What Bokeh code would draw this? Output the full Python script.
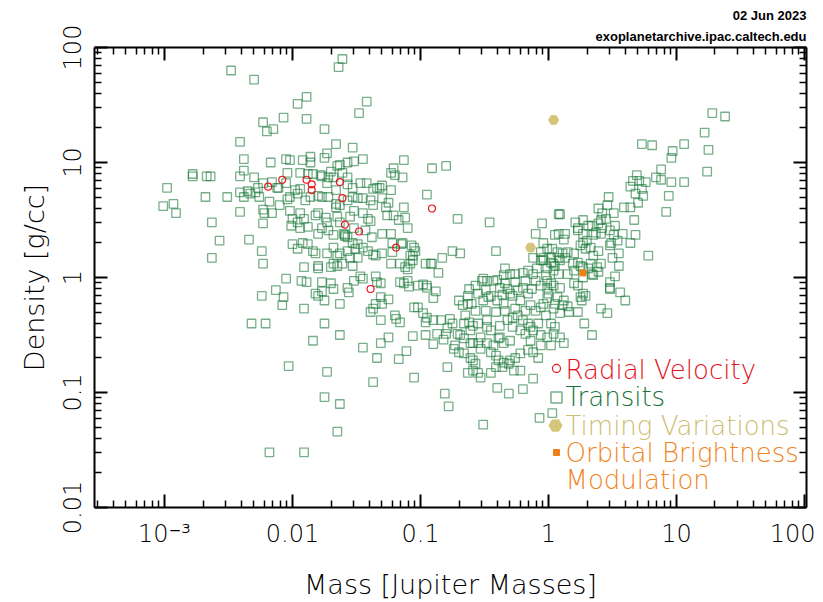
import numpy as np
from bokeh.plotting import figure
from bokeh.models import Range1d, LogAxis, FixedTicker, Label, Title
from bokeh.embed import file_html
from bokeh.resources import INLINE

# ---------------- data (log10 of mass [M_J] and density [g/cc]) ----------------
transit_log_mass = [
    -2.48, -2.30, -1.64, -1.61, -1.96, -1.89, -1.42, -1.48, -2.23, -2.07,
    -1.89, -2.20, -2.15, -1.75, -2.41, -1.66, -1.53, -2.38, -2.17, -2.05,
    -2.02, -1.92, -1.86, -1.86, -1.75, -1.73, -1.65, -1.63, -1.57, -1.52,
    -1.45, -1.13, -2.38, -2.41, -2.78, -2.78, -2.67, -2.64, -2.98, -2.04,
    -1.94, -1.88, -1.84, -1.78, -1.72, -1.70, -1.61, -1.57, -1.42, -1.34,
    -1.23, -1.21, -1.20, -1.14, -2.30, -2.27, -2.23, -2.16, -2.11, -2.68,
    -2.51, -2.41, -2.38, -3.01, -2.93, -2.91, -2.41, -2.63, -2.57, -2.34,
    -2.63, -2.32, -2.21, -1.68, -1.73, -1.77, -2.05, -2.12, -1.98, -1.94,
    -1.66, -1.57, -1.53, -1.47, -1.37, -1.32, -1.23, -2.35, -2.33, -2.29,
    -2.26, -2.18, -2.10, -2.04, -2.02, -1.96, -1.90, -1.86, -1.80, -1.77,
    -1.72, -1.66, -1.63, -1.57, -1.53, -1.49, -1.45, -1.39, -1.37, -1.30,
    -2.23, -2.22, -2.16, -2.02, -2.00, -1.94, -1.91, -1.82, -1.80, -1.74,
    -1.73, -1.66, -1.65, -1.63, -1.55, -1.52, -1.45, -1.41, -1.39, -1.27,
    -1.26, -1.21, -2.23, -2.01, -1.96, -1.94, -1.88, -1.80, -1.77, -1.72,
    -1.68, -1.60, -1.59, -1.57, -1.59, -1.52, -1.43, -1.38, -1.30, -1.23,
    -2.24, -2.00, -1.96, -1.92, -1.84, -1.82, -1.73, -1.68, -1.65, -1.63,
    -1.57, -1.53, -1.51, -1.45, -1.41, -1.37, -1.30, -1.22, -2.23, -1.88,
    -1.49, -1.55, -1.53, -1.49, -1.35, -1.23, -1.15, -1.07, -1.05, -1.91,
    -1.80, -1.80, -1.70, -1.68, -1.61, -1.65, -2.05, -1.93, -1.89, -1.77,
    -1.70, -1.68, -1.57, -1.56, -1.52, -1.47, -1.45, -1.35, -1.34, -1.31,
    -2.24, -2.13, -2.07, -2.08, -1.91, -1.82, -1.80, -1.77, -1.75, -1.63,
    -1.39, -1.37, -1.35, -1.30, -1.31, -1.25, -1.31, -1.16, -1.13, -1.10,
    -1.09, -1.10, -1.08, -1.06, -1.05, -1.02, -1.75, -1.19, -1.16, -1.84,
    -1.63, -1.45, -1.31, -1.25, -1.34, -1.17, -1.11, -1.06, -2.03, -1.73,
    -1.37, -1.05, -1.75, -1.63, -1.65, -2.18, -1.91, -0.95, -1.13, -1.12,
    -1.10, -0.71, -0.46, -0.05, -0.10, 0.05, 0.08, 0.08, -0.04, -0.01,
    -1.14, -1.04, -1.08, -1.06, -0.75, -0.69, -0.83, -0.41, -0.96, -0.92,
    -0.91, -0.86, -0.98, -0.95, -0.88, -0.90, -0.70, -0.67, -0.63, -0.60,
    -0.62, -0.57, -0.51, -0.48, -0.40, -0.55, -0.49, -0.47, -0.34, -0.30,
    -0.26, -0.20, -0.16, -0.12, -0.09, -0.06, -0.04, 0.02, 0.05, 0.08,
    -0.38, -0.32, -0.30, -0.40, -0.35, -0.98, -0.95, -0.96, -0.90, -0.77,
    -0.75, -0.79, -0.62, -0.55, -0.48, -0.96, -0.87, -0.71, -0.66, -0.61,
    -0.90, -0.82, -0.73, -0.53, -0.48, -0.43, -0.38, -0.30, -0.52, -0.43,
    -0.63, -0.51, -0.45, -0.36, -0.28, -0.24, -0.20, -0.16, -0.13, -0.06,
    -0.01, 0.02, -0.01, 0.05, 0.11, 0.16, 0.23, 0.25, 0.29, 0.48,
    0.41, 0.46, 0.28, 0.34, -0.84, -0.80, -0.69, -0.66, -0.59, -0.48,
    -0.59, -0.55, -0.53, -0.39, -0.35, -0.32, -0.28, -0.24, -0.20, -0.16,
    -0.14, -0.12, -0.08, -0.28, -0.22, -0.18, -0.06, -0.01, 0.04, 0.09,
    0.12, 0.02, 0.05, -0.74, -0.70, -0.66, -0.61, -0.59, -0.57, -0.59,
    -0.45, -0.41, -0.39, -0.35, -0.30, -0.26, -0.22, -0.16, -0.12, -0.08,
    -0.41, -0.36, -0.31, -0.27, -0.22, -0.53, -0.55, -0.79, -0.63, -0.40,
    -0.31, -0.20, -0.12, -0.81, -0.78, -0.51, -0.07, 0.03, -0.45,
    1.28, 1.38, 1.22, 0.73, 0.81, 1.06, 0.97, 0.96, 1.25, 0.88, 0.84,
    0.88, 1.24, 0.69, 0.66, 0.71, 0.76, 0.64, 0.73, 0.68, 0.74,
    0.70, 0.96, 1.06, 0.94, 0.47, 0.92, 0.59, 0.64, 0.39, 0.42,
    0.41, 0.45, 0.39, 0.42, 0.51, 0.52, 0.09, 0.21, 0.27, 0.23,
    0.27, 0.34, 0.37, 0.41, 0.48, 0.67, 0.68, 0.64, 0.58, 0.13,
    0.12, 0.27, 0.30, 0.33, 0.29, 0.48, 0.49, 0.39, 0.35, 0.55,
    0.50, 0.78, -0.06, 0.07, 0.11, 0.15, 0.20, 0.02, 0.13, 0.19,
    0.23, 0.27, 0.33, 0.38, 0.41, 0.55, -0.01, 0.04, 0.08, 0.15,
    0.20, 0.27, 0.34, 0.39, 0.52, 0.23, 0.20, 0.48, 0.56, 0.27,
    0.26, 0.60, -0.01, 0.04, 0.09, 0.00, 0.07, 0.12, 0.15, 0.09,
    0.04, -0.04, -0.06, 0.46, 0.31, 0.23, 0.35, 0.51, 0.54, 0.03,
    0.25, -0.12, -0.04, 0.04, 0.09, 0.25, 0.31, 0.35, 0.48, -0.35,
    -0.91, -0.80, -1.30, -1.25, -1.17, -1.22, -0.95, -1.02, -1.16, -1.12,
    -1.20,
    -0.34, -0.26, -0.18, -0.10, -0.02, -0.22, -0.14, -0.10, -0.18, -0.26,
    -0.34, -0.41, -0.49, -0.57, -0.65, -0.38, -0.45, -0.02, -0.06, -0.14,
    0.02, -0.61,
]
transit_log_density = [
    1.80, 1.72, 1.83, 1.90, 1.51, 1.57, 1.53, 1.43, 1.35, 1.39,
    1.38, 1.27, 1.29, 1.29, 1.18, 1.16, 1.13, 1.03, 1.00, 1.03,
    1.02, 1.02, 1.05, 1.00, 1.04, 1.08, 0.97, 0.98, 1.00, 1.01,
    1.03, 1.02, 0.93, 0.88, 0.90, 0.88, 0.88, 0.88, 0.78, 0.91,
    0.91, 0.90, 0.90, 0.89, 0.87, 0.92, 0.91, 0.87, 0.82, 0.78,
    0.91, 0.95, 0.89, 0.87, 0.87, 0.78, 0.82, 0.83, 0.78, 0.70,
    0.70, 0.74, 0.70, 0.62, 0.64, 0.56, 0.57, 0.48, 0.32, 0.33,
    0.17, -0.40, -0.40, 0.87, 0.82, 0.88, 0.82, 0.78, 0.76, 0.77,
    0.76, 0.81, 0.78, 0.82, 0.77, 0.78, 0.76, 0.75, 0.73, 0.74,
    0.70, 0.66, 0.63, 0.68, 0.70, 0.73, 0.67, 0.70, 0.71, 0.70,
    0.70, 0.64, 0.63, 0.67, 0.70, 0.69, 0.69, 0.67, 0.63, 0.69,
    0.59, 0.56, 0.56, 0.58, 0.51, 0.56, 0.51, 0.54, 0.56, 0.52,
    0.48, 0.61, 0.53, 0.48, 0.53, 0.58, 0.56, 0.51, 0.49, 0.61,
    0.54, 0.54, 0.47, 0.45, 0.48, 0.43, 0.44, 0.38, 0.43, 0.41,
    0.37, 0.38, 0.36, 0.35, 0.37, 0.43, 0.41, 0.35, 0.38, 0.38,
    0.23, 0.29, 0.25, 0.30, 0.23, 0.21, 0.21, 0.26, 0.19, 0.21,
    0.23, 0.30, 0.25, 0.26, 0.23, 0.20, 0.21, 0.22, 0.12, 0.29,
    0.29, 0.17, 0.10, 0.17, 0.19, 0.12, 0.29, 0.28, 0.26, 0.09,
    0.10, 0.08, 0.09, 0.12, 0.12, 0.10, -0.01, -0.03, -0.04, -0.04,
    -0.05, -0.10, -0.09, -0.13, -0.03, 0.01, -0.01, 0.01, -0.04, -0.05,
    -0.16, -0.11, -0.17, -0.24, -0.27, -0.14, -0.16, -0.12, -0.20, -0.23,
    -0.30, -0.27, -0.23, -0.23, -0.17, -0.19, -0.37, -0.04, -0.05, -0.03,
    -0.08, 0.07, 0.12, 0.19, -0.26, -0.26, -0.40, -0.36, -0.39, -0.55,
    -0.50, -0.61, -0.57, -0.52, -0.70, -0.71, -0.64, -0.51, -0.77, -0.82,
    -0.91, -0.87, -1.04, -1.10, -1.34, -1.52, -1.52, 0.72, 0.61, 0.52,
    0.43, 0.51, 0.48, 0.47, 0.38, 0.37, 0.38, 0.55, 0.30, 0.25,
    0.30, 0.23, 0.19, 0.15, 0.23, 0.21, 0.17, 0.23, 0.12, 0.12,
    0.12, 0.04, -0.06, -0.09, -0.12, -0.18, -0.20, -0.24, -0.23, -0.23,
    -0.10, -0.07, -0.01, -0.03, -0.02, -0.14, -0.11, -0.17, 0.08, 0.03,
    0.03, 0.04, 0.06, 0.03, 0.08, 0.15, 0.17, 0.13, 0.10, 0.17,
    -0.09, -0.10, -0.14, -0.20, -0.23, -0.31, -0.35, -0.39, -0.37, -0.36,
    -0.40, -0.44, -0.39, -0.40, -0.37, -0.50, -0.49, -0.49, -0.53, -0.57,
    -0.58, -0.54, -0.59, -0.52, -0.57, -0.59, -0.52, -0.55, -0.03, -0.03,
    -0.16, -0.20, -0.16, -0.15, -0.16, -0.11, -0.09, -0.14, -0.10, -0.07,
    -0.09, -0.05, -0.18, -0.23, -0.24, -0.30, -0.30, -0.17, -0.16, -0.09,
    -0.27, -0.31, -0.40, -0.50, -0.37, -0.49, -0.50, -0.40, -0.42, -0.43,
    -0.57, -0.57, -0.62, -0.53, -0.57, -0.37, -0.35, -0.33, -0.37, -0.40,
    -0.43, -0.46, -0.40, -0.43, -0.46, -0.49, -0.50, -0.52, -0.49, -0.52,
    -0.57, -0.40, -0.43, -0.62, -0.65, -0.66, -0.70, -0.72, -0.75, -0.81,
    -0.65, -0.68, -0.72, -0.74, -0.72, -0.70, -0.66, -0.63, -0.65, -0.70,
    -0.78, -0.78, -0.75, -0.81, -0.81, -0.87, -0.83, -0.78, -0.83, -0.96,
    -1.01, -0.97, -0.88, -1.01, -1.12, -1.28, -1.22, -1.18, -0.83,
    1.43, 1.40, 1.26, 1.16, 1.15, 1.16, 1.10, 1.04, 1.11, 0.94, 0.87,
    0.85, 0.92, 0.89, 0.84, 0.84, 0.83, 0.79, 0.77, 0.73, 0.71,
    0.65, 0.83, 0.83, 0.71, 0.70, 0.57, 0.61, 0.61, 0.60, 0.56,
    0.50, 0.51, 0.47, 0.43, 0.56, 0.45, 0.55, 0.48, 0.50, 0.43,
    0.38, 0.45, 0.39, 0.38, 0.41, 0.50, 0.37, 0.30, 0.38, 0.38,
    0.33, 0.30, 0.32, 0.26, 0.25, 0.28, 0.30, 0.23, 0.19, 0.21,
    0.17, 0.19, 0.22, 0.22, 0.21, 0.22, 0.21, 0.17, 0.17, 0.12,
    0.13, 0.09, 0.12, 0.09, 0.12, 0.10, 0.08, 0.06, 0.03, 0.03,
    0.06, 0.00, 0.03, 0.05, 0.01, -0.07, -0.05, -0.10, -0.13, -0.14,
    -0.20, -0.20, -0.03, -0.07, -0.09, -0.14, -0.17, -0.20, -0.25, -0.31,
    -0.27, -0.23, -0.26, 0.63, 0.45, 0.41, 0.37, 0.37, 0.32, 0.25,
    0.28, 0.17, 0.15, 0.12, 0.15, 0.10, 0.08, 0.02, -0.04, 0.02,
    0.95, 0.97, 0.80, 0.65, 0.50, 0.30, -0.07, -0.07, 0.12, 0.09,
    -0.33,
    -0.05, -0.04, -0.03, -0.03, 0.02, -0.20, -0.24, -0.29, -0.29, -0.27,
    -0.29, -0.30, -0.29, -0.29, -0.33, -0.42, -0.46, -0.33, -0.59, -0.55,
    -0.59, -0.46,
]
rv_log_mass = [-2.19, -2.08, -1.89, -1.85, -1.85, -1.63, -1.61, -1.59, -1.48, -1.19, -1.39, -0.91]
rv_log_density = [0.79, 0.85, 0.85, 0.81, 0.76, 0.83, 0.69, 0.46, 0.40, 0.26, -0.10, 0.60]
ttv_log_mass = [0.04, -0.14]
ttv_log_density = [1.37, 0.26]
obm_log_mass = [0.27]
obm_log_density = [0.04]

x_major = [1e-3, 1e-2, 1e-1, 1.0, 10.0, 100.0]
x_major_labels = ["10\u207b\u00b3", "0.01", "0.1", "1", "10", "100"]
y_major = [0.01, 0.1, 1.0, 10.0, 100.0]
y_major_labels = ["0.01", "0.1", "1", "10", "100"]

legend_labels = ["Radial Velocity", "Transits", "Timing Variations", "Orbital Brightness", "Modulation"]
credit_lines = ["02 Jun 2023", "exoplanetarchive.ipac.caltech.edu"]

# ---------------- figure ----------------
X0, X1 = 10 ** -3.547, 10 ** 2.016
Y0, Y1 = 0.01, 100.0

p = figure(width=815, height=602, x_axis_type="log", y_axis_type="log",
           x_range=Range1d(X0, X1), y_range=Range1d(Y0, Y1),
           output_backend="svg", toolbar_location=None,
           min_border_left=94, min_border_right=9, min_border_top=47, min_border_bottom=95)
p.grid.visible = False
p.outline_line_color = None
p.background_fill_color = "white"
p.border_fill_color = "white"

FONT = "DejaVu Sans Light, DejaVu Sans"

x_minor = [m * 10.0 ** k for k in range(-4, 3) for m in range(2, 10) if X0 <= m * 10.0 ** k <= X1]
y_minor = [m * 10.0 ** k for k in range(-2, 2) for m in range(2, 10)]
xt = FixedTicker(ticks=x_major, minor_ticks=x_minor)
yt = FixedTicker(ticks=y_major, minor_ticks=y_minor)


def style_axis(ax, show_labels):
    ax.axis_line_width = 2
    ax.axis_line_color = "black"
    ax.major_tick_in = 13
    ax.major_tick_out = 0
    ax.minor_tick_in = 7
    ax.minor_tick_out = 0
    ax.major_tick_line_width = 2
    ax.minor_tick_line_width = 1.5
    ax.major_tick_line_color = "black"
    ax.minor_tick_line_color = "black"
    if show_labels:
        ax.major_label_text_font = FONT
        ax.major_label_text_font_size = "24px"
        ax.major_label_text_color = "black"
    else:
        ax.major_label_text_font_size = "1px"
        ax.major_label_text_alpha = 0
        ax.major_label_standoff = 0


xa = p.xaxis[0]
xa.ticker = xt
xa.major_label_overrides = dict(zip(x_major, x_major_labels))
style_axis(xa, True)
xa.major_label_standoff = 12
xa.axis_label = "Mass [Jupiter Masses]"
xa.axis_label_text_font = FONT
xa.axis_label_text_font_size = "27px"
xa.axis_label_text_font_style = "normal"
xa.axis_label_text_color = "black"
xa.axis_label_standoff = 18

ya = p.yaxis[0]
ya.ticker = yt
ya.major_label_overrides = dict(zip(y_major, y_major_labels))
style_axis(ya, True)
ya.major_label_orientation = "vertical"
ya.major_label_standoff = 14
ya.axis_label = "Density [g/cc]"
ya.axis_label_text_font = FONT
ya.axis_label_text_font_size = "27px"
ya.axis_label_text_font_style = "normal"
ya.axis_label_text_color = "black"
ya.axis_label_standoff = 10

top = LogAxis(ticker=FixedTicker(ticks=x_major, minor_ticks=x_minor),
              major_label_overrides={t: "" for t in x_major})
style_axis(top, False)
p.add_layout(top, "above")
right = LogAxis(ticker=FixedTicker(ticks=y_major, minor_ticks=y_minor),
                major_label_overrides={t: "" for t in y_major})
style_axis(right, False)
p.add_layout(right, "right")

# ---------------- credits (above the frame, right aligned) ----------------
CREDIT_FONT = "Liberation Sans Narrow, Liberation Sans"
p.add_layout(Title(text=credit_lines[1], align="right", text_font=CREDIT_FONT,
                   text_font_size="13px", text_font_style="bold", text_color="black",
                   standoff=8, offset=0), "above")
p.add_layout(Title(text=credit_lines[0], align="right", text_font=CREDIT_FONT,
                   text_font_size="13px", text_font_style="bold", text_color="black",
                   standoff=0, offset=0), "above")

# ---------------- data glyphs ----------------
n = min(len(transit_log_mass), len(transit_log_density))
tx = 10.0 ** np.array(transit_log_mass[:n])
ty = 10.0 ** np.array(transit_log_density[:n])
p.scatter(tx, ty, marker="square", size=8.5, fill_color=None,
          line_color="#1a7a3a", line_alpha=0.6, line_width=1.3)
p.scatter(10.0 ** np.array(rv_log_mass), 10.0 ** np.array(rv_log_density),
          marker="circle", size=7, fill_color=None, line_color="#e8141e", line_width=1.2)
p.scatter(10.0 ** np.array(ttv_log_mass), 10.0 ** np.array(ttv_log_density),
          marker="hex", size=10, fill_color="#d6c47a", line_color="#d6c47a")
p.scatter(10.0 ** np.array(obm_log_mass), 10.0 ** np.array(obm_log_density),
          marker="square", size=6, fill_color="#f07f1a", line_color="#f07f1a")

# ---------------- legend (manual, inside plot) ----------------
leg_mx = 10 ** 0.0625
leg_tx = 10 ** 0.133
p.scatter([leg_mx], [10 ** -0.791], marker="circle", size=8, fill_color=None,
          line_color="#e8141e", line_width=1.2)
p.scatter([leg_mx], [10 ** -1.043], marker="square", size=11, fill_color=None,
          line_color="#1a7a3a", line_alpha=0.6, line_width=1.5)
p.scatter([10 ** 0.055], [10 ** -1.287], marker="hex", size=13,
          fill_color="#d6c47a", line_color="#d6c47a")
p.scatter([leg_mx], [10 ** -1.522], marker="square", size=6,
          fill_color="#f07f1a", line_color="#f07f1a")

leg_colors = ["#e4101a", "#17743a", "#cdbd72", "#f08420", "#f08420"]
leg_ys = [-0.800, -1.043, -1.287, -1.530, -1.765]
for txt, col, ly in zip(legend_labels, leg_colors, leg_ys):
    p.add_layout(Label(x=leg_tx, y=10 ** ly, text=txt, text_color=col,
                       text_font=FONT, text_font_size="26px",
                       text_align="left", text_baseline="alphabetic"))

open("out.html", "w").write(file_html(p, INLINE))
